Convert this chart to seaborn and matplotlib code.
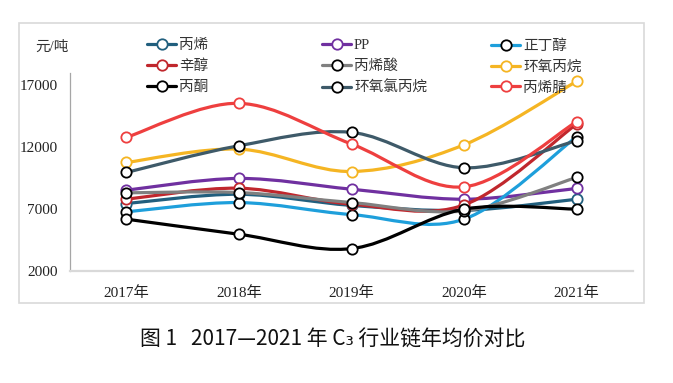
import numpy as np
import pandas as pd
import matplotlib
matplotlib.use("Agg")
import matplotlib.pyplot as plt
import seaborn as sns
from matplotlib.path import Path
from matplotlib.patches import PathPatch, Rectangle
from matplotlib.lines import Line2D

# ---------------- DATA ----------------
years = ["2017年", "2018年", "2019年", "2020年", "2021年"]

names = ["丙烯", "PP", "正丁醇", "辛醇", "丙烯酸", "环氧丙烷", "丙酮", "环氧氯丙烷", "丙烯腈"]

propylene = [7450, 8200, 7300, 6900, 7800]
pp = [8530, 9480, 8610, 7800, 8670]
butanol = [6780, 7530, 6560, 6190, 12850]
octanol = [7800, 8690, 7400, 7340, 13880]
acrylic_acid = [8316, 8340, 7530, 6860, 9560]
propylene_oxide = [10770, 11850, 10040, 12200, 17330]
acetone = [6190, 4970, 3810, 7000, 7000]
epichlorohydrin = [9960, 12120, 13200, 10340, 12530]
acrylonitrile = [12800, 15550, 12260, 8800, 14070]

values = [propylene, pp, butanol, octanol, acrylic_acid,
          propylene_oxide, acetone, epichlorohydrin, acrylonitrile]

line_colors = ["#215F7E", "#7030A0", "#1E9FDB", "#C0272D", "#808080",
               "#F5B523", "#000000", "#3E5A69", "#EE3F3F"]
edge_colors = ["#215F7E", "#7030A0", "#000000", "#C0272D", "#000000",
               "#F5B523", "#000000", "#000000", "#EE3F3F"]

yticks = [2000, 7000, 12000, 17000]

SERIF = ["Liberation Serif", "Noto Sans CJK SC"]
SANS = ["Noto Sans CJK SC", "DejaVu Sans"]

# ---------------------------------------
sns.set_theme(style="white")
plt.rcParams["font.family"] = SERIF


def smooth_path(xs, ys):
    # catmull-rom style bezier, like the excel "smoothed line"
    pts = np.column_stack([xs, ys]).astype(float)
    n = len(pts)
    verts = [pts[0]]
    codes = [Path.MOVETO]
    for i in range(n - 1):
        p0 = pts[max(i - 1, 0)]
        p1 = pts[i]
        p2 = pts[i + 1]
        p3 = pts[min(i + 2, n - 1)]
        c1 = p1 + (p2 - p0) / 6.0
        c2 = p2 - (p3 - p1) / 6.0
        verts += [c1, c2, p2]
        codes += [Path.CURVE4] * 3
    return Path(verts, codes)


fig = plt.figure(figsize=(6.73, 3.83), dpi=100)
ax = fig.add_axes([70 / 673, 1 - 271 / 383, 563 / 673, 198 / 383])

x_idx = np.arange(len(years))

for i, (name, vals) in enumerate(zip(names, values)):
    patch = PathPatch(smooth_path(x_idx, vals), facecolor="none",
                      edgecolor=line_colors[i], lw=2.3, zorder=2 + 2 * i,
                      capstyle="round", joinstyle="round")
    ax.add_patch(patch)
    df = pd.DataFrame({"x": x_idx, "y": vals})
    sns.scatterplot(data=df, x="x", y="y", ax=ax, color="white",
                    edgecolor=edge_colors[i], linewidth=1.3, s=55,
                    zorder=3 + 2 * i, legend=False)

ax.set_xlim(-0.5, len(years) - 0.5)
ax.set_ylim(2000, 18000)
ax.set_xticks(x_idx)
ax.set_xticklabels(years, fontsize=11, family=SERIF, color="#222222")
ax.set_yticks(yticks)
ax.set_yticklabels([str(v) for v in yticks], fontsize=11, family=SERIF,
                   color="#222222")
ax.set_xlabel("")
ax.set_ylabel("")
ax.tick_params(axis="x", length=0, pad=11)
ax.tick_params(axis="y", length=2, direction="in", pad=9, color="#999999")

for side in ["top", "right"]:
    ax.spines[side].set_visible(False)
ax.spines["left"].set_color("#A6A6A6")
ax.spines["left"].set_linewidth(0.9)
ax.spines["bottom"].set_color("#D9D9D9")
ax.spines["bottom"].set_linewidth(1.6)

# legends, three columns
handles = [Line2D([0], [0], color=line_colors[i], lw=2.3, marker="o",
                  markersize=7.5, markerfacecolor="white",
                  markeredgecolor=edge_colors[i], markeredgewidth=1.3)
           for i in range(len(names))]
col_x = [147, 322, 491]
for c in range(3):
    idx = [c, c + 3, c + 6]
    leg = fig.legend([handles[k] for k in idx], [names[k] for k in idx],
                     loc="upper left",
                     bbox_to_anchor=(col_x[c] / 673, 1 - 39 / 383),
                     frameon=False, borderpad=0, borderaxespad=0,
                     handlelength=2.0, handletextpad=0.2,
                     labelspacing=0.52,
                     prop={"family": SERIF, "size": 10.5})
    for t in leg.get_texts():
        t.set_color("#333333")

fig.text(52 / 673, 1 - 47 / 383, "元/吨", ha="center", va="center",
         fontsize=10.5, family=SERIF, color="#333333")

# outer frame
fig.patches.append(Rectangle((19 / 673, 1 - 303 / 383), 625 / 673, 280 / 383,
                             transform=fig.transFigure, fill=False,
                             edgecolor="#D9D9D9", lw=1.2))

fig.text(333 / 673, 1 - 340 / 383, "图 1   2017—2021 年 C₃ 行业链年均价对比",
         ha="center", va="center", fontsize=15, family=SANS,
         color="#111111")

fig.savefig("out.png", dpi=100)
